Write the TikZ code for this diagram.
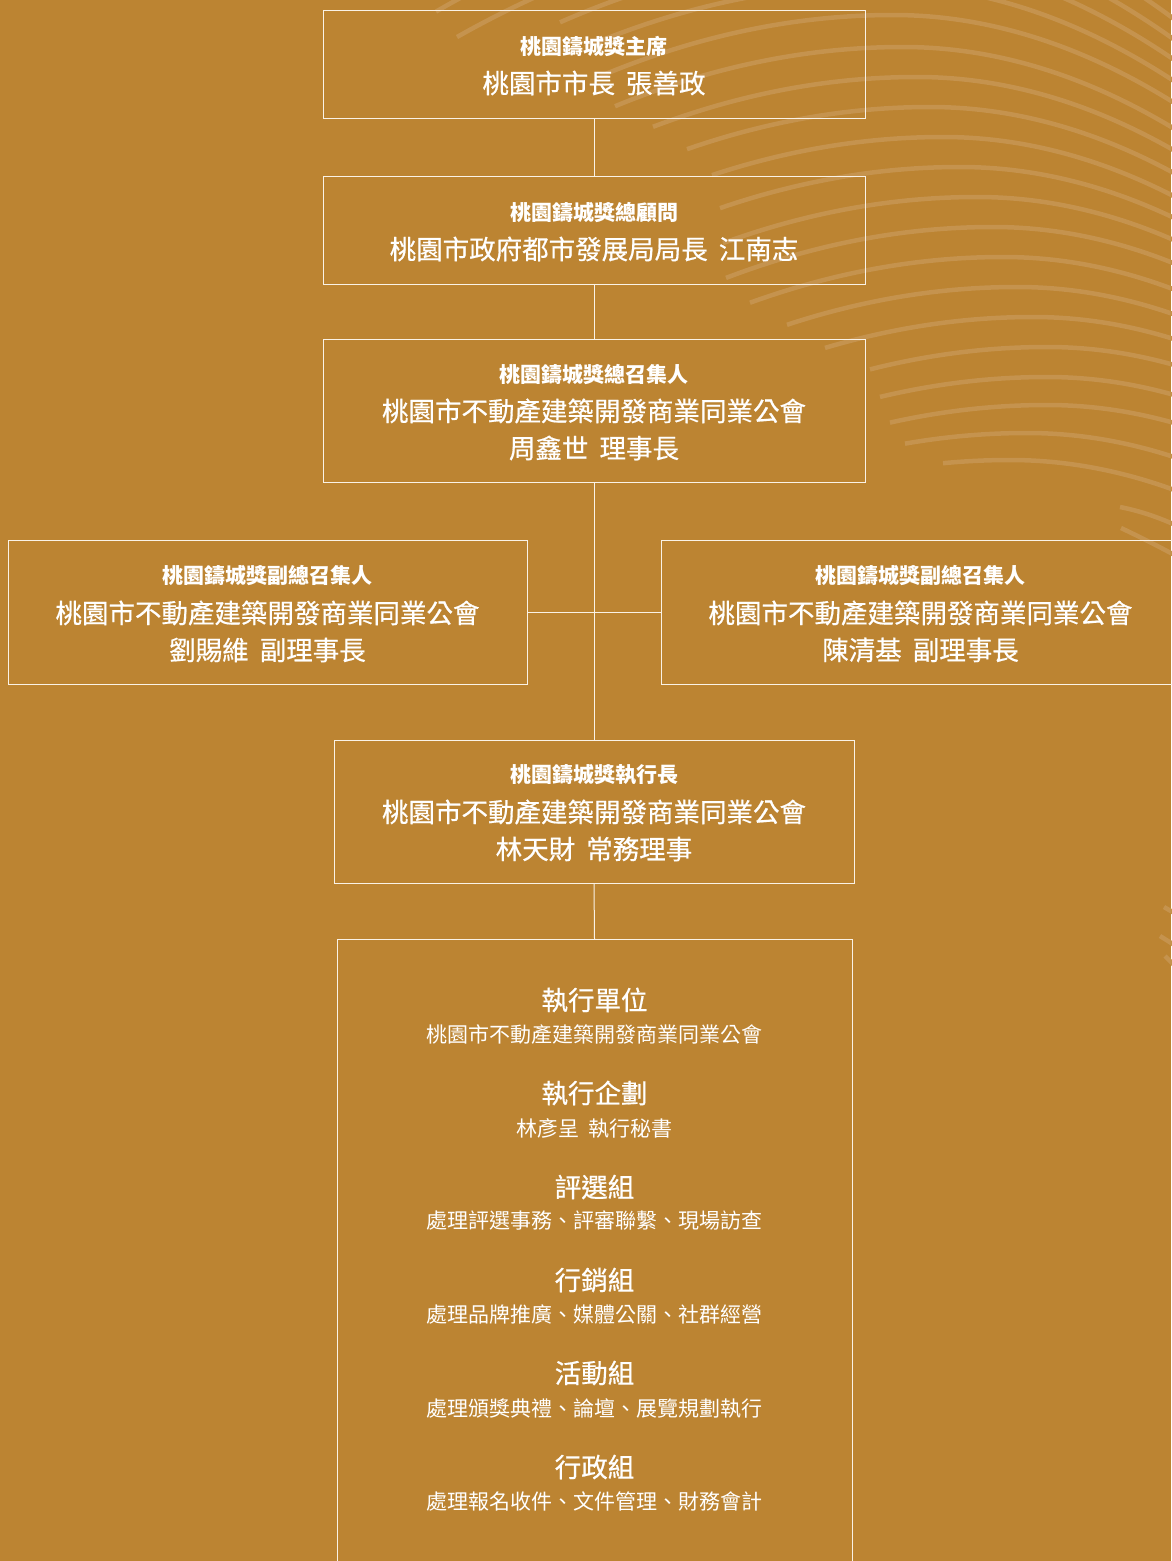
\documentclass[tikz,border=0pt]{standalone}
\usepackage{fontspec}
\newfontfamily\cjk{Noto Sans CJK TC}
\newfontfamily\cjkm[FakeBold=0.6]{Noto Sans CJK TC}
\definecolor{bg}{RGB}{188,132,50}
\definecolor{swirl}{RGB}{197,147,78}
\definecolor{rule}{RGB}{250,242,230}
\newcommand\gp{\hspace{0.42em}}
\tikzset{
  box/.style={draw=rule, line width=1pt, rectangle, inner sep=0pt, outer sep=0pt},
  conn/.style={draw=rule, line width=1pt},
  ttl/.style={text=white, inner sep=0pt, font=\cjk\bfseries\fontsize{21}{25}\selectfont},
  mn/.style={text=white, inner sep=0pt, font=\cjkm\fontsize{26.5}{30}\selectfont},
  hd/.style={text=white, inner sep=0pt, font=\cjkm\fontsize{26.5}{30}\selectfont},
  sb/.style={text=white, inner sep=0pt, font=\cjk\fontsize{21}{25}\selectfont},
  swirlline/.style={draw=swirl, line width=4.5pt}
}
\begin{document}
\begin{tikzpicture}[x=1pt, y=-1pt]
\useasboundingbox (0,0) rectangle (1171,1561);
\fill[bg] (0,0) rectangle (1171,1561);

% decorative swirl lines
\foreach \xp/\yp/\xl in {840/-105/436, 853/-75/457, 867/-45/560, 880/-15/585,
  893/15/600, 903/47/615, 917/77/653, 930/107/687, 943/137/712, 960/167/720,
  977/197/723, 993/227/726, 1003/257/750, 1017/287/787, 1033/317/825,
  1047/347/870, 1047/377/880, 1047/405/890, 1027/433/905, 1010/460/943}
  \draw[swirlline] plot[domain=\xl:1185, samples=60, smooth]
    (\x, {\yp + ((\x<\xp) ? (((\xp-\x)/37.417)^2) : (((\x-\xp)/30)^2))});
\draw[swirlline] (1120,507) .. controls (1140,511) and (1158,517) .. (1180,527);
\draw[swirlline] (1121,528) .. controls (1140,537) and (1160,547) .. (1180,558);
\draw[swirlline] (1164,907) -- (1176,914);
\draw[swirlline] (1160,936) -- (1176,946);
\draw[swirlline] (1165,956) -- (1176,967);

% boxes
\node[box, minimum width=542pt, minimum height=108pt] (b1) at (594,64) {};
\node[box, minimum width=542pt, minimum height=108pt] (b2) at (594,230) {};
\node[box, minimum width=542pt, minimum height=143pt] (b3) at (594,410.5) {};
\node[box, minimum width=519pt, minimum height=144pt] (bl) at (267.5,612) {};
\node[box, minimum width=519pt, minimum height=144pt] (br) at (920.5,612) {};
\node[box, minimum width=520pt, minimum height=143pt] (b5) at (594,811.5) {};
\node[box, minimum width=515pt, minimum height=642pt] (b6) at (594.5,1260) {};

% connectors
\draw[conn] (b1.south) -- (b2.north);
\draw[conn] (b2.south) -- (b3.north);
\draw[conn] (b3.south) -- (b5.north);
\draw[conn] (bl.east) -- (br.west);
\draw[conn] (b5.south) -- (b6.north);

% texts
\node[ttl] (t1a) at (594,46) {桃園鑄城獎主席};
\node[mn]  (t1b) at (594,83) {桃園市市長\gp 張善政};

\node[ttl] (t2a) at (594,212) {桃園鑄城獎總顧問};
\node[mn]  (t2b) at (594,249) {桃園市政府都市發展局局長\gp 江南志};

\node[ttl] (t3a) at (594,374) {桃園鑄城獎總召集人};
\node[mn]  (t3b) at (594,411) {桃園市不動產建築開發商業同業公會};
\node[mn]  (t3c) at (594,448) {周鑫世\gp 理事長};

\node[ttl] (tla) at (267.5,575) {桃園鑄城獎副總召集人};
\node[mn]  (tlb) at (267.5,613) {桃園市不動產建築開發商業同業公會};
\node[mn]  (tlc) at (267.5,650) {劉賜維\gp 副理事長};

\node[ttl] (tra) at (920.5,575) {桃園鑄城獎副總召集人};
\node[mn]  (trb) at (920.5,613) {桃園市不動產建築開發商業同業公會};
\node[mn]  (trc) at (920.5,650) {陳清基\gp 副理事長};

\node[ttl] (t5a) at (594,775) {桃園鑄城獎執行長};
\node[mn]  (t5b) at (594,812) {桃園市不動產建築開發商業同業公會};
\node[mn]  (t5c) at (594,849) {林天財\gp 常務理事};

\node[hd] (h1) at (594.5,1000) {執行單位};
\node[sb] (s1) at (594.5,1035) {桃園市不動產建築開發商業同業公會};
\node[hd] (h2) at (594.5,1093) {執行企劃};
\node[sb] (s2) at (594.5,1128) {林彥呈\gp 執行秘書};
\node[hd] (h3) at (594.5,1187) {評選組};
\node[sb] (s3) at (594.5,1221) {處理評選事務、評審聯繫、現場訪查};
\node[hd] (h4) at (594.5,1280) {行銷組};
\node[sb] (s4) at (594.5,1315) {處理品牌推廣、媒體公關、社群經營};
\node[hd] (h5) at (594.5,1373) {活動組};
\node[sb] (s5) at (594.5,1408) {處理頒獎典禮、論壇、展覽規劃執行};
\node[hd] (h6) at (594.5,1467) {行政組};
\node[sb] (s6) at (594.5,1501) {處理報名收件、文件管理、財務會計};
\end{tikzpicture}
\end{document}
